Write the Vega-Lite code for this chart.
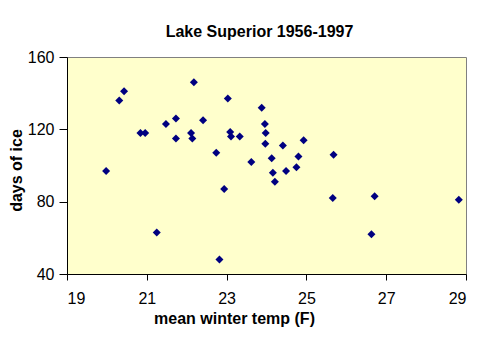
{
  "$schema": "https://vega.github.io/schema/vega-lite/v6.json",
  "width": 399,
  "height": 217,
  "autosize": "none",
  "padding": {"left": 67, "top": 57, "right": 34, "bottom": 68},
  "background": "#FFFFFF",
  "title": {
    "text": "Lake Superior 1956-1997",
    "font": "Liberation Sans",
    "fontSize": 16,
    "fontWeight": "bold",
    "color": "#000000",
    "anchor": "middle",
    "dx": -7,
    "offset": 9
  },
  "config": {
    "view": {"fill": "#FFFFCC", "stroke": "#808080", "strokeWidth": 1},
    "axis": {
      "labelFont": "Liberation Sans",
      "labelFontSize": 16,
      "labelColor": "#000000",
      "titleFont": "Liberation Sans",
      "titleFontSize": 16,
      "titleFontWeight": "bold",
      "titleColor": "#000000",
      "domainColor": "#000000",
      "tickColor": "#000000",
      "tickSize": 6,
      "grid": false
    }
  },
  "data": {
    "values": [
      {"temp": 19.98, "days": 97},
      {"temp": 20.31, "days": 136},
      {"temp": 20.43, "days": 141},
      {"temp": 20.84, "days": 118},
      {"temp": 20.96, "days": 118},
      {"temp": 21.25, "days": 63},
      {"temp": 21.48, "days": 123},
      {"temp": 21.73, "days": 126},
      {"temp": 21.73, "days": 115},
      {"temp": 22.11, "days": 118},
      {"temp": 22.14, "days": 115},
      {"temp": 22.18, "days": 146},
      {"temp": 22.41, "days": 125},
      {"temp": 22.74, "days": 107},
      {"temp": 22.82, "days": 48},
      {"temp": 22.94, "days": 87},
      {"temp": 23.03, "days": 137},
      {"temp": 23.09, "days": 118.5},
      {"temp": 23.11, "days": 116},
      {"temp": 23.33, "days": 116},
      {"temp": 23.62, "days": 102},
      {"temp": 23.88, "days": 132},
      {"temp": 23.96, "days": 123},
      {"temp": 23.98, "days": 118},
      {"temp": 23.97, "days": 112},
      {"temp": 24.13, "days": 104},
      {"temp": 24.16, "days": 96},
      {"temp": 24.21, "days": 91},
      {"temp": 24.41, "days": 111},
      {"temp": 24.49, "days": 97},
      {"temp": 24.75, "days": 99},
      {"temp": 24.8, "days": 105},
      {"temp": 24.93, "days": 114},
      {"temp": 25.66, "days": 82},
      {"temp": 25.68, "days": 106},
      {"temp": 26.63, "days": 62},
      {"temp": 26.71, "days": 83},
      {"temp": 28.82, "days": 81}
    ]
  },
  "mark": {"type": "point", "shape": "diamond", "filled": true, "color": "#000080", "opacity": 1, "size": 64},
  "encoding": {
    "x": {
      "field": "temp",
      "type": "quantitative",
      "scale": {"domain": [19, 29], "nice": false, "zero": false},
      "axis": {
        "values": [19, 21, 23, 25, 27, 29],
        "title": "mean winter temp (F)",
        "labelPadding": 10,
        "titleX": 167,
        "titleY": 49,
        "titleAnchor": null,
        "titleAlign": "center",
        "titleBaseline": "alphabetic"
      }
    },
    "y": {
      "field": "days",
      "type": "quantitative",
      "scale": {"domain": [40, 160], "nice": false, "zero": false},
      "axis": {
        "values": [40, 80, 120, 160],
        "title": "days of ice",
        "labelPadding": 5,
        "tickSize": 8,
        "titleX": -46,
        "titleY": 113,
        "titleAngle": -90,
        "titleAlign": "center",
        "titleBaseline": "alphabetic"
      }
    }
  }
}
